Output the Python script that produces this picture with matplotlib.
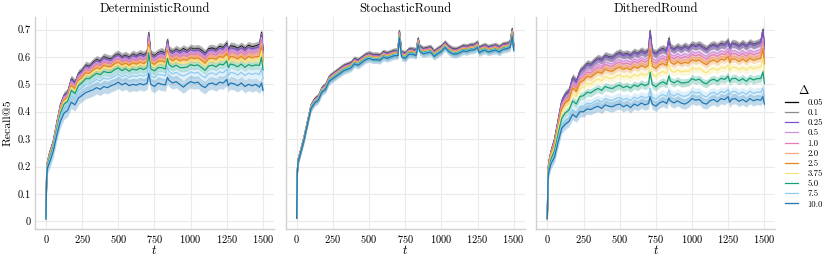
"""
Recall@5 over time for three rounding schemes, one line per Delta
"""

import numpy as np
import matplotlib
matplotlib.use('Agg')
import matplotlib.pyplot as plt
from matplotlib.ticker import FuncFormatter

plt.rcParams['font.family'] = 'serif'
plt.rcParams['font.serif'] = ['cmr10']
plt.rcParams['mathtext.fontset'] = 'cm'
plt.rcParams['axes.formatter.use_mathtext'] = True

# time steps
t = [0, 5, 10, 25, 50, 75, 100, 125, 150, 175, 200, 225, 250, 275, 300, 325,
     350, 375, 400, 425, 450, 475, 500, 525, 550, 575, 600, 625, 650, 675,
     700, 710, 725, 750, 775, 800, 825, 840, 850, 875, 900, 925, 950, 975,
     1000, 1025, 1050, 1075, 1100, 1125, 1150, 1175, 1200, 1225, 1250, 1260,
     1275, 1300, 1325, 1350, 1375, 1400, 1425, 1450, 1475, 1490, 1500]

deltas = ['0.05', '0.1', '0.25', '0.5', '1.0', '2.0', '2.5', '3.75', '5.0',
          '7.5', '10.0']
titles = ['DeterministicRound', 'StochasticRound', 'DitheredRound']

# Recall@5 in thousandths, one row per Delta (same order as deltas)
deterministic = [
    [10, 180, 215, 250, 290, 360, 425, 460, 470, 520, 505, 540, 550, 570, 565, 580, 590, 585, 600, 595, 592, 605, 610, 600, 606, 598, 610, 604, 612, 607, 615, 688, 610, 604, 615, 620, 612, 662, 626, 618, 628, 620, 630, 622, 632, 628, 631, 624, 612, 630, 632, 627, 638, 634, 650, 624, 640, 638, 631, 640, 630, 642, 636, 640, 645, 690, 624],
    [10, 180, 215, 249, 289, 359, 424, 459, 469, 518, 503, 538, 548, 568, 563, 578, 588, 583, 598, 593, 590, 603, 608, 598, 604, 596, 608, 602, 610, 605, 613, 685, 608, 602, 613, 618, 610, 659, 624, 616, 626, 618, 627, 620, 630, 626, 629, 621, 610, 627, 629, 624, 635, 631, 647, 621, 637, 635, 628, 637, 627, 639, 633, 637, 642, 686, 621],
    [10, 179, 214, 248, 288, 358, 422, 457, 467, 516, 501, 535, 545, 565, 560, 575, 585, 580, 595, 590, 587, 600, 605, 595, 601, 593, 604, 599, 607, 602, 609, 681, 604, 598, 609, 614, 606, 655, 620, 612, 622, 614, 623, 616, 626, 622, 625, 618, 606, 624, 626, 621, 631, 628, 643, 618, 633, 631, 624, 633, 623, 635, 629, 633, 637, 681, 617],
    [10, 178, 213, 246, 286, 355, 419, 453, 463, 511, 497, 531, 541, 560, 556, 570, 580, 575, 589, 584, 582, 594, 600, 590, 596, 588, 599, 593, 601, 596, 604, 673, 599, 593, 604, 608, 601, 648, 615, 607, 616, 608, 616, 610, 620, 616, 619, 611, 600, 617, 619, 614, 625, 621, 637, 611, 626, 624, 617, 626, 616, 628, 622, 626, 629, 671, 609],
    [10, 177, 212, 244, 284, 353, 415, 449, 459, 506, 492, 525, 535, 553, 550, 563, 573, 568, 582, 577, 576, 588, 593, 583, 589, 581, 592, 586, 594, 589, 597, 664, 592, 586, 597, 600, 593, 639, 608, 599, 609, 600, 607, 602, 612, 608, 611, 603, 592, 609, 611, 606, 617, 613, 628, 603, 618, 616, 609, 618, 607, 619, 613, 617, 619, 659, 600],
    [10, 176, 211, 242, 282, 350, 412, 446, 456, 501, 487, 520, 530, 548, 545, 558, 568, 562, 576, 571, 571, 582, 588, 578, 584, 575, 586, 580, 588, 583, 591, 655, 586, 579, 591, 594, 587, 632, 602, 593, 602, 594, 599, 596, 605, 601, 604, 596, 585, 602, 604, 599, 609, 606, 621, 596, 610, 608, 601, 610, 600, 611, 605, 609, 611, 649, 592],
    [10, 174, 209, 240, 280, 347, 408, 442, 452, 496, 483, 515, 525, 542, 540, 552, 561, 556, 570, 565, 565, 576, 581, 571, 578, 569, 579, 574, 581, 576, 584, 647, 579, 573, 584, 586, 580, 624, 595, 586, 595, 586, 591, 588, 598, 594, 597, 588, 577, 594, 596, 591, 602, 598, 613, 588, 602, 600, 593, 602, 591, 602, 597, 601, 602, 638, 583],
    [10, 173, 208, 237, 277, 344, 403, 437, 447, 489, 476, 508, 518, 534, 533, 544, 553, 548, 561, 556, 557, 567, 573, 563, 570, 561, 570, 565, 573, 568, 575, 635, 570, 564, 575, 577, 571, 613, 586, 577, 586, 577, 580, 579, 588, 584, 587, 578, 567, 584, 586, 581, 591, 588, 602, 578, 591, 589, 582, 591, 580, 591, 585, 590, 589, 623, 571],
    [10, 170, 205, 233, 273, 338, 396, 428, 438, 478, 466, 496, 506, 521, 521, 531, 540, 535, 547, 543, 544, 554, 560, 550, 557, 548, 556, 552, 559, 554, 561, 615, 556, 549, 561, 561, 556, 595, 572, 563, 570, 561, 561, 563, 572, 568, 571, 561, 551, 567, 570, 564, 574, 571, 585, 561, 574, 571, 564, 574, 562, 572, 567, 571, 569, 599, 552],
    [10, 166, 201, 225, 265, 328, 382, 414, 424, 460, 448, 476, 486, 499, 501, 509, 518, 512, 523, 519, 523, 530, 538, 528, 534, 525, 532, 528, 535, 530, 537, 583, 532, 524, 537, 535, 531, 565, 548, 538, 544, 535, 531, 537, 545, 541, 544, 532, 524, 539, 542, 535, 546, 542, 556, 532, 544, 541, 534, 544, 532, 541, 536, 541, 535, 559, 520],
    [10, 160, 195, 215, 255, 315, 365, 395, 405, 435, 425, 450, 460, 470, 475, 480, 488, 482, 492, 488, 495, 500, 508, 498, 505, 495, 500, 497, 503, 498, 505, 540, 500, 492, 505, 500, 498, 525, 515, 505, 510, 500, 490, 502, 510, 505, 508, 495, 488, 502, 505, 498, 508, 505, 518, 495, 505, 502, 495, 505, 492, 500, 495, 500, 490, 505, 478],
]

stochastic = [
    [12, 185, 225, 255, 305, 365, 425, 447, 457, 488, 498, 528, 538, 548, 558, 568, 573, 578, 593, 588, 598, 608, 613, 608, 608, 606, 618, 613, 618, 623, 623, 695, 618, 613, 628, 628, 623, 668, 638, 630, 633, 636, 620, 630, 638, 653, 638, 630, 628, 633, 640, 638, 643, 644, 653, 633, 638, 643, 636, 640, 643, 636, 646, 648, 653, 703, 643],
    [12, 184, 224, 254, 304, 364, 424, 446, 456, 487, 497, 527, 537, 547, 557, 567, 572, 577, 592, 587, 597, 607, 612, 607, 607, 605, 617, 612, 617, 622, 622, 693, 617, 612, 627, 627, 622, 666, 637, 629, 632, 635, 619, 629, 637, 652, 637, 629, 627, 632, 639, 637, 642, 643, 652, 632, 637, 642, 635, 639, 642, 635, 645, 647, 652, 701, 641],
    [12, 184, 224, 253, 303, 363, 423, 445, 455, 486, 495, 525, 535, 545, 555, 565, 570, 575, 590, 585, 595, 605, 610, 605, 605, 603, 615, 610, 615, 620, 620, 691, 615, 610, 625, 625, 620, 664, 635, 627, 630, 633, 617, 627, 635, 650, 635, 627, 625, 630, 637, 635, 640, 641, 650, 630, 635, 640, 633, 637, 640, 633, 643, 645, 650, 699, 640],
    [12, 183, 223, 252, 302, 362, 422, 443, 453, 484, 494, 524, 534, 544, 553, 563, 568, 573, 588, 583, 593, 603, 608, 603, 603, 601, 613, 608, 613, 618, 618, 689, 613, 608, 623, 623, 618, 662, 633, 625, 628, 631, 615, 625, 633, 648, 633, 625, 623, 628, 635, 633, 638, 639, 648, 628, 633, 638, 631, 635, 638, 631, 641, 643, 648, 696, 638],
    [12, 182, 222, 252, 302, 362, 421, 442, 452, 483, 493, 523, 532, 542, 552, 562, 567, 572, 587, 582, 592, 602, 607, 602, 602, 600, 612, 607, 612, 617, 617, 687, 612, 607, 622, 622, 617, 661, 632, 624, 627, 630, 614, 624, 632, 647, 632, 624, 622, 627, 634, 632, 637, 638, 647, 627, 632, 637, 630, 634, 637, 630, 640, 642, 647, 694, 636],
    [12, 182, 222, 251, 301, 361, 420, 441, 451, 482, 491, 521, 531, 541, 550, 560, 565, 570, 585, 580, 590, 600, 605, 600, 600, 598, 610, 605, 610, 615, 615, 684, 610, 605, 620, 620, 615, 659, 630, 622, 625, 628, 612, 622, 630, 645, 630, 622, 620, 625, 632, 630, 635, 636, 645, 625, 630, 635, 628, 632, 635, 628, 638, 640, 645, 691, 635],
    [12, 181, 221, 250, 300, 360, 419, 440, 450, 480, 490, 520, 529, 539, 549, 559, 564, 569, 584, 579, 589, 599, 604, 599, 599, 597, 609, 604, 609, 614, 614, 682, 609, 604, 619, 619, 614, 657, 629, 621, 624, 627, 611, 621, 629, 644, 629, 621, 619, 624, 631, 629, 634, 635, 644, 624, 629, 634, 627, 631, 634, 627, 637, 639, 644, 689, 633],
    [12, 180, 220, 249, 299, 359, 418, 439, 449, 479, 488, 518, 528, 538, 547, 557, 562, 567, 582, 577, 587, 597, 602, 597, 597, 595, 607, 602, 607, 612, 612, 680, 607, 602, 617, 617, 612, 655, 627, 619, 622, 625, 609, 619, 627, 642, 627, 619, 617, 622, 629, 627, 632, 633, 642, 622, 627, 632, 625, 629, 632, 625, 635, 637, 642, 686, 631],
    [12, 179, 219, 248, 298, 358, 417, 437, 447, 477, 487, 517, 526, 536, 545, 555, 560, 565, 580, 575, 585, 595, 600, 595, 595, 593, 605, 600, 605, 610, 610, 677, 605, 600, 615, 615, 610, 653, 625, 617, 620, 623, 607, 617, 625, 640, 625, 617, 615, 620, 627, 625, 630, 631, 640, 620, 625, 630, 623, 627, 630, 623, 633, 635, 640, 683, 629],
    [12, 178, 218, 247, 297, 357, 415, 436, 446, 476, 485, 515, 524, 534, 543, 553, 558, 563, 578, 573, 583, 593, 598, 593, 593, 591, 603, 598, 603, 608, 608, 674, 603, 598, 613, 613, 608, 650, 623, 615, 618, 621, 605, 615, 623, 638, 623, 615, 613, 618, 625, 623, 628, 629, 638, 618, 623, 628, 621, 625, 628, 621, 631, 633, 638, 680, 627],
    [12, 177, 217, 245, 295, 355, 413, 433, 443, 473, 482, 512, 521, 531, 540, 550, 555, 560, 575, 570, 580, 590, 595, 590, 590, 588, 600, 595, 600, 605, 605, 670, 600, 595, 610, 610, 605, 646, 620, 612, 615, 618, 602, 612, 620, 635, 620, 612, 610, 615, 622, 620, 625, 626, 635, 615, 620, 625, 618, 622, 625, 618, 628, 630, 635, 675, 623],
]

dithered = [
    [10, 185, 215, 255, 300, 370, 440, 465, 475, 525, 510, 548, 560, 575, 572, 585, 595, 590, 605, 600, 598, 610, 615, 608, 612, 606, 618, 612, 622, 615, 624, 695, 620, 612, 625, 630, 622, 668, 636, 628, 638, 630, 640, 632, 645, 640, 645, 636, 628, 640, 645, 638, 648, 645, 658, 635, 650, 648, 640, 650, 640, 652, 645, 650, 655, 700, 632],
    [10, 184, 214, 254, 299, 369, 439, 464, 474, 524, 509, 547, 559, 574, 571, 584, 594, 589, 604, 599, 597, 609, 614, 607, 611, 605, 617, 611, 621, 614, 623, 693, 619, 611, 624, 629, 621, 666, 635, 627, 637, 629, 639, 631, 644, 639, 644, 635, 627, 639, 644, 637, 647, 644, 657, 634, 649, 647, 639, 649, 639, 651, 644, 649, 654, 698, 631],
    [10, 183, 213, 252, 297, 367, 437, 462, 472, 522, 507, 545, 557, 572, 569, 582, 592, 587, 602, 597, 595, 607, 612, 605, 609, 603, 615, 609, 619, 612, 621, 690, 617, 609, 622, 627, 619, 663, 633, 625, 635, 627, 637, 629, 642, 637, 642, 633, 625, 637, 642, 635, 645, 642, 655, 632, 647, 645, 637, 647, 637, 649, 642, 647, 652, 695, 629],
    [10, 181, 210, 249, 292, 360, 427, 451, 461, 507, 493, 529, 539, 554, 551, 563, 572, 567, 582, 577, 575, 586, 591, 583, 588, 581, 593, 587, 597, 590, 599, 664, 595, 587, 600, 605, 597, 640, 611, 603, 612, 604, 612, 606, 619, 614, 619, 609, 602, 614, 619, 612, 622, 619, 632, 609, 623, 622, 614, 623, 613, 625, 618, 623, 627, 668, 605],
    [10, 180, 209, 247, 288, 356, 422, 445, 455, 501, 487, 521, 531, 545, 542, 554, 563, 558, 573, 568, 566, 577, 581, 574, 578, 572, 584, 578, 588, 581, 589, 652, 585, 577, 590, 595, 587, 629, 601, 593, 602, 594, 602, 597, 610, 604, 609, 599, 592, 604, 609, 602, 612, 609, 621, 599, 613, 612, 604, 613, 603, 615, 608, 613, 617, 656, 595],
    [10, 178, 207, 245, 285, 352, 417, 440, 450, 494, 480, 514, 523, 537, 534, 546, 555, 549, 564, 559, 557, 567, 572, 564, 569, 562, 574, 568, 578, 571, 579, 640, 576, 568, 581, 586, 578, 618, 591, 583, 592, 584, 591, 587, 600, 594, 599, 589, 582, 594, 599, 592, 602, 599, 611, 589, 603, 602, 594, 603, 593, 605, 598, 603, 606, 644, 585],
    [10, 177, 205, 242, 282, 348, 412, 434, 444, 487, 474, 507, 515, 529, 526, 537, 546, 540, 555, 550, 548, 558, 563, 555, 560, 553, 565, 559, 569, 562, 570, 628, 566, 558, 571, 576, 568, 607, 581, 573, 583, 575, 581, 577, 590, 585, 589, 579, 572, 584, 589, 581, 592, 589, 601, 579, 593, 592, 583, 593, 583, 595, 588, 593, 595, 631, 575],
    [10, 172, 200, 236, 272, 336, 397, 418, 428, 467, 454, 484, 491, 504, 501, 512, 520, 513, 528, 523, 521, 530, 535, 526, 532, 524, 536, 530, 540, 533, 541, 592, 537, 529, 542, 547, 539, 574, 552, 544, 553, 545, 549, 547, 560, 555, 559, 548, 542, 554, 559, 551, 562, 559, 571, 549, 562, 562, 553, 562, 552, 564, 557, 562, 563, 595, 544],
    [10, 166, 193, 227, 259, 320, 377, 396, 406, 440, 428, 455, 459, 471, 469, 478, 485, 478, 492, 487, 485, 493, 497, 488, 494, 486, 498, 492, 502, 495, 502, 544, 499, 491, 503, 509, 501, 531, 513, 505, 513, 505, 506, 508, 521, 515, 519, 507, 502, 514, 519, 511, 522, 518, 530, 509, 521, 522, 513, 521, 511, 523, 516, 521, 521, 546, 503],
    [10, 159, 185, 216, 243, 300, 353, 369, 379, 408, 397, 419, 421, 431, 429, 437, 443, 435, 448, 443, 441, 449, 452, 443, 449, 440, 453, 447, 457, 450, 455, 486, 453, 445, 457, 463, 455, 478, 465, 457, 466, 458, 456, 461, 474, 468, 471, 459, 454, 466, 471, 462, 474, 470, 481, 461, 473, 474, 464, 472, 463, 475, 467, 472, 470, 487, 455],
    [10, 155, 180, 210, 235, 290, 340, 355, 365, 390, 380, 400, 400, 410, 408, 415, 420, 412, 425, 420, 418, 425, 428, 418, 425, 415, 428, 422, 432, 425, 430, 455, 428, 420, 432, 438, 430, 450, 440, 432, 440, 432, 428, 435, 448, 442, 445, 432, 428, 440, 445, 436, 448, 444, 455, 435, 446, 448, 438, 445, 436, 448, 440, 445, 442, 455, 428],
]

# half width of the shaded band (thousandths), one per Delta
deterministic_err = [15, 13, 13, 13, 13, 14, 14, 14, 15, 19, 23]
stochastic_err = [11, 10, 10, 10, 10, 10, 10, 10, 11, 12, 14]
dithered_err = [15, 13, 13, 13, 13, 13, 13, 14, 15, 18, 19]

colors = ['#000000', '#8c8c8c', '#7b52c9', '#cf94dc', '#e27fb8', '#f2aa80',
          '#e5861c', '#f7e57a', '#15a07a', '#8fcbee', '#1f77b4']


def check(name, rows):
    for k, row in enumerate(rows):
        if len(row) != len(t):
            raise ValueError(f'{name} row {k}: {len(row)} != {len(t)}')


def panel(ax, title, rows, errs):
    x = np.array(t)
    for row, err, color, label in zip(rows, errs, colors, deltas):
        y = np.array(row) / 1000
        e = err / 1000
        ax.fill_between(x, y - e, y + e, color=color, alpha=0.28, lw=0)
        ax.plot(x, y, color=color, lw=0.9, label=label)
    ax.set_title(title, fontsize=9, pad=4)
    ax.set_xlabel('$t$', fontsize=9, labelpad=-1)
    ax.set_xlim(-75, 1575)
    ax.set_ylim(-0.028, 0.745)
    ax.set_xticks([0, 250, 500, 750, 1000, 1250, 1500])
    ax.set_yticks([0, 0.1, 0.2, 0.3, 0.4, 0.5, 0.6, 0.7])
    ax.yaxis.set_major_formatter(FuncFormatter(lambda v, p: f'{round(v, 1):g}'))
    ax.grid(color='#ebebeb', lw=0.8)
    ax.set_axisbelow(True)
    for side in ['top', 'right']:
        ax.spines[side].set_visible(False)
    for side in ['left', 'bottom']:
        ax.spines[side].set_color('#d0d0d0')
        ax.spines[side].set_linewidth(1.0)
    ax.tick_params(length=0, labelsize=7.5, pad=3)


def main():
    check('deterministic', deterministic)
    check('stochastic', stochastic)
    check('dithered', dithered)

    fig, axes = plt.subplots(1, 3, figsize=(8.3, 2.61), dpi=100, sharey=True)
    fig.subplots_adjust(left=0.0423, right=0.934, bottom=0.1226, top=0.934,
                        wspace=0.05)
    panel(axes[0], titles[0], deterministic, deterministic_err)
    panel(axes[1], titles[1], stochastic, stochastic_err)
    panel(axes[2], titles[2], dithered, dithered_err)
    axes[0].set_ylabel('Recall@5', fontsize=8.5)
    axes[1].tick_params(labelleft=False)
    axes[2].tick_params(labelleft=False)

    handles, labels = axes[0].get_legend_handles_labels()
    fig.legend(handles, labels, loc='center left', bbox_to_anchor=(0.936, 0.44),
               frameon=False, title=r'$\Delta$', fontsize=6.3,
               title_fontsize=9, handlelength=1.5, labelspacing=0.2,
               handletextpad=1.1)

    fig.savefig('out.png', dpi=100)


if __name__ == "__main__":
    main()
